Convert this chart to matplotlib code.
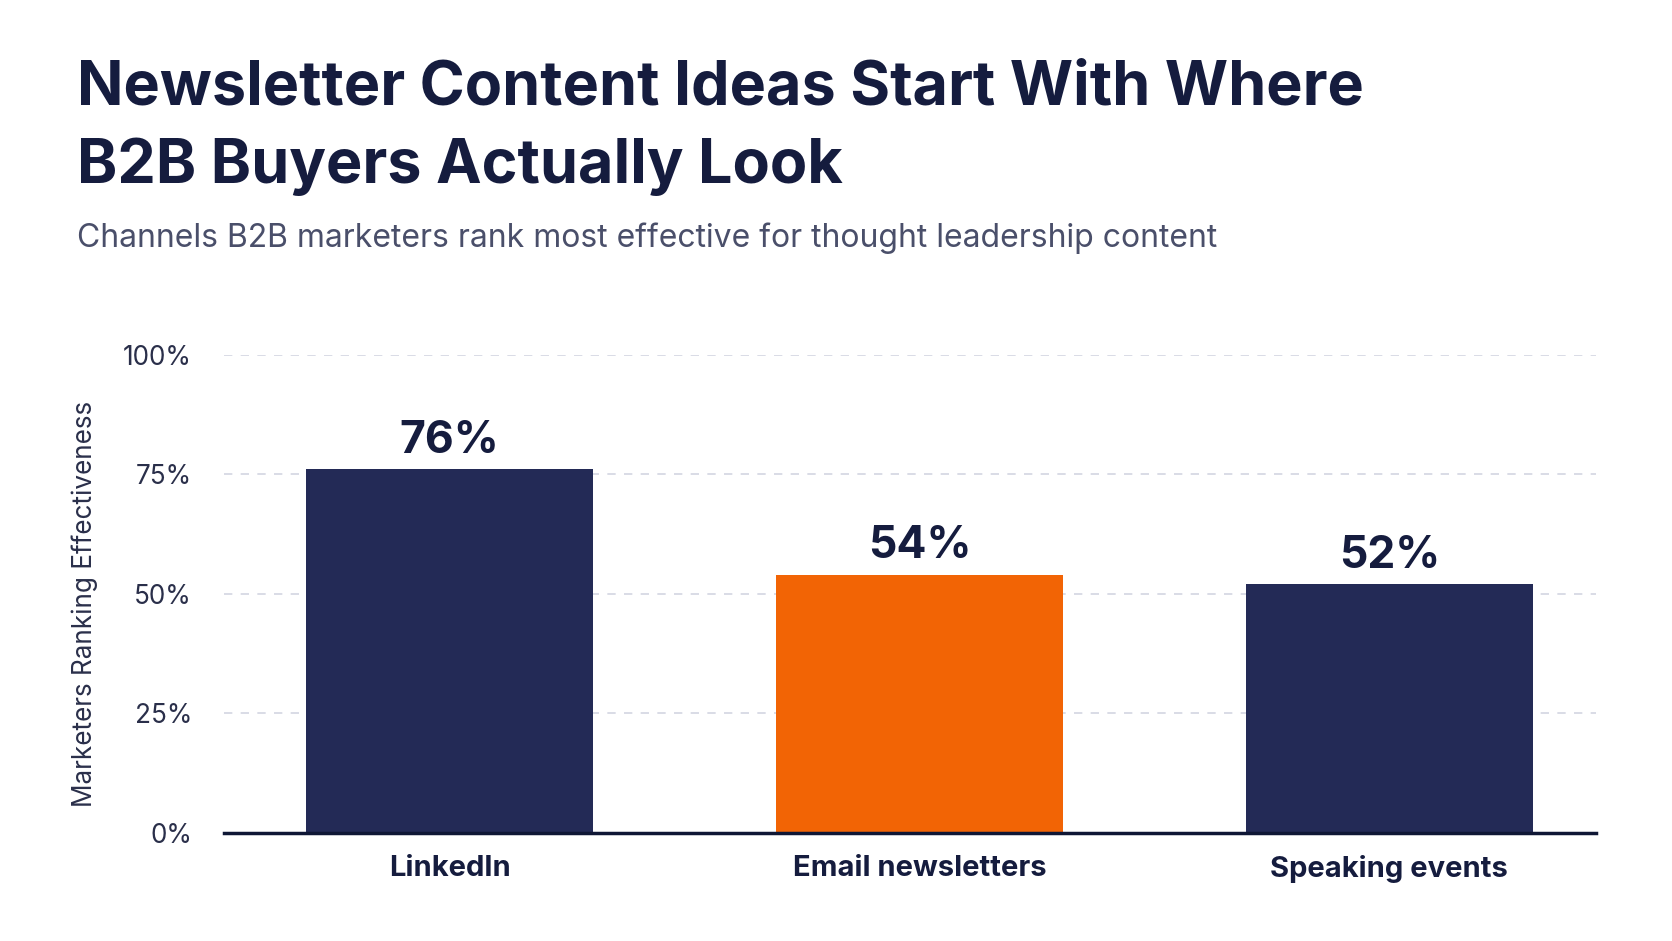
import matplotlib
matplotlib.use("Agg")
import matplotlib.pyplot as plt

# data
channels = ["LinkedIn", "Email newsletters", "Speaking events"]
shares = [76, 54, 52]
highlight = "Email newsletters"
y_ticks = [0, 25, 50, 75, 100]

NAVY = "#232a56"
ORANGE = "#f26405"
INK = "#151c3e"

plt.rcParams["font.family"] = ["Inter", "DejaVu Sans"]

fig = plt.figure(figsize=(16.72, 9.41), dpi=100)
fig.patch.set_facecolor("white")
ax = fig.add_axes([0.134, 0.115, 0.8206, 0.508])

colors = [ORANGE if c == highlight else NAVY for c in channels]
x = range(len(channels))
bars = ax.bar(x, shares, width=0.61, color=colors, zorder=3)

for b, v in zip(bars, shares):
    ax.text(b.get_x() + b.get_width() / 2, v + 1.5, f"{v}%", ha="center", va="bottom",
            fontsize=32, fontweight="bold", color=INK)

ax.set_xlim(-0.48, 2.44)
ax.set_ylim(0, 100)
ax.set_yticks(y_ticks)
ax.set_yticklabels([f"{t}%" for t in y_ticks], fontsize=18.8, color="#2a2f4a")
ax.set_xticks(list(x))
ax.set_xticklabels(channels, fontsize=21, fontweight="bold", color=INK)
ax.tick_params(axis="y", length=0, pad=23)
ax.tick_params(axis="x", length=0, pad=16)

ax.yaxis.grid(True, linestyle=(0, (5, 5)), color="#d3d5e2", linewidth=1.2, zorder=0)
ax.set_axisbelow(True)
for s in ["top", "right", "left"]:
    ax.spines[s].set_visible(False)
ax.spines["bottom"].set_color("#0f1735")
ax.spines["bottom"].set_linewidth(2.5)
ax.spines["bottom"].set_zorder(4)

ax.set_ylabel("Marketers Ranking Effectiveness", fontsize=18.8, color="#2a2f4a")
ax.yaxis.set_label_coords(-0.092, 0.478)

fig.text(0.046, 0.889, "Newsletter Content Ideas Start With Where", fontsize=44,
         fontweight="bold", color=INK, va="baseline")
fig.text(0.046, 0.806, "B2B Buyers Actually Look", fontsize=44,
         fontweight="bold", color=INK, va="baseline")
fig.text(0.046, 0.738, "Channels B2B marketers rank most effective for thought leadership content",
         fontsize=23, color="#4a4f6a", va="baseline")

fig.savefig("out.png", dpi=100, facecolor="white")
